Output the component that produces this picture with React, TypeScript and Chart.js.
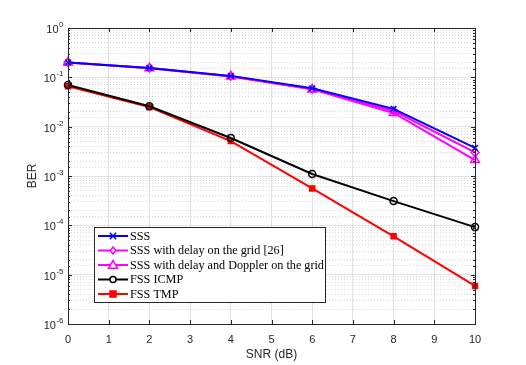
import React, { useEffect, useRef } from "react";
import { Chart, registerables } from "chart.js";

Chart.register(...registerables);

const snr = [0, 2, 4, 6, 8, 10];
const sss = [0.2, 0.155, 0.107, 0.06, 0.023, 0.0037];
const sssDelay = [0.2, 0.155, 0.105, 0.058, 0.021, 0.003];
const sssDelayDoppler = [0.2, 0.153, 0.104, 0.057, 0.019, 0.0021];
const fssIcmp = [0.07, 0.026, 0.0059, 0.0011, 0.00031, 0.000092];
const fssTmp = [0.066, 0.025, 0.0051, 0.00056, 0.00006, 0.0000059];

const seriesNames = [
  "SSS",
  "SSS with delay on the grid [26]",
  "SSS with delay and Doppler on the grid",
  "FSS ICMP",
  "FSS TMP",
];
const xTicks = [0, 1, 2, 3, 4, 5, 6, 7, 8, 9, 10];
const yExponents = [0, -1, -2, -3, -4, -5, -6];

const TEXT = "#262626";
const SANS = "'Liberation Sans', Arial, sans-serif";
const SERIF = "'Liberation Serif', 'Times New Roman', serif";

const isMajor = (v: number) => {
  const l = Math.log10(v);
  return Math.abs(l - Math.round(l)) < 1e-9;
};

function drawMarker(ctx: CanvasRenderingContext2D, style: string, x: number, y: number, r: number, color: string, fill: string) {
  ctx.save();
  ctx.strokeStyle = color;
  ctx.fillStyle = fill;
  ctx.lineWidth = 1.5;
  ctx.beginPath();
  if (style === "crossRot") {
    ctx.moveTo(x - r * 0.8, y - r * 0.8);
    ctx.lineTo(x + r * 0.8, y + r * 0.8);
    ctx.moveTo(x + r * 0.8, y - r * 0.8);
    ctx.lineTo(x - r * 0.8, y + r * 0.8);
    ctx.stroke();
  } else if (style === "rectRot") {
    ctx.moveTo(x, y - r);
    ctx.lineTo(x + r * 0.8, y);
    ctx.lineTo(x, y + r);
    ctx.lineTo(x - r * 0.8, y);
    ctx.closePath();
    ctx.fill();
    ctx.stroke();
  } else if (style === "triangle") {
    ctx.moveTo(x, y - r);
    ctx.lineTo(x + r, y + r * 0.7);
    ctx.lineTo(x - r, y + r * 0.7);
    ctx.closePath();
    ctx.fill();
    ctx.stroke();
  } else if (style === "circle") {
    ctx.arc(x, y, r, 0, Math.PI * 2);
    ctx.fill();
    ctx.stroke();
  } else if (style === "rect") {
    ctx.rect(x - r, y - r, 2 * r, 2 * r);
    ctx.fill();
    ctx.stroke();
  }
  ctx.restore();
}

const decorPlugin = {
  id: "decor",
  afterDatasetsDraw(chart: any) {
    const ctx: CanvasRenderingContext2D = chart.ctx;
    const { left, right, top, bottom } = chart.chartArea;
    const xs = chart.scales.x;
    const ys = chart.scales.y;
    ctx.save();
    // frame
    ctx.strokeStyle = TEXT;
    ctx.lineWidth = 1;
    ctx.strokeRect(Math.round(left) + 0.5, Math.round(top) + 0.5, Math.round(right - left), Math.round(bottom - top));
    // x ticks inward
    ctx.beginPath();
    xTicks.forEach((v) => {
      const px = Math.round(xs.getPixelForValue(v)) + 0.5;
      ctx.moveTo(px, bottom);
      ctx.lineTo(px, bottom - 4);
      ctx.moveTo(px, top);
      ctx.lineTo(px, top + 4);
    });
    // y ticks inward
    ys.ticks.forEach((t: any) => {
      const py = Math.round(ys.getPixelForValue(t.value)) + 0.5;
      const len = isMajor(t.value) ? 4 : 2;
      ctx.moveTo(left, py);
      ctx.lineTo(left + len, py);
      ctx.moveTo(right, py);
      ctx.lineTo(right - len, py);
    });
    ctx.stroke();

    // y tick labels with superscripts
    ctx.fillStyle = TEXT;
    ctx.textBaseline = "alphabetic";
    yExponents.forEach((e) => {
      const py = ys.getPixelForValue(Math.pow(10, e));
      const exp = String(e);
      ctx.font = `11px ${SANS}`;
      const wBase = ctx.measureText("10").width;
      ctx.font = `8px ${SANS}`;
      const wExp = ctx.measureText(exp).width;
      const rightEdge = left - 5;
      const x0 = rightEdge - wExp - wBase;
      ctx.font = `11px ${SANS}`;
      ctx.textAlign = "left";
      ctx.fillText("10", x0, py + 5);
      ctx.font = `8px ${SANS}`;
      ctx.fillText(exp, x0 + wBase + 0.5, py - 1);
    });

    // axis titles
    ctx.font = `12px ${SANS}`;
    ctx.textAlign = "center";
    ctx.textBaseline = "middle";
    ctx.fillText("SNR (dB)", (left + right) / 2, 355);
    ctx.save();
    ctx.translate(33, (top + bottom) / 2);
    ctx.rotate(-Math.PI / 2);
    ctx.fillText("BER", 0, 0);
    ctx.restore();

    // legend
    const bx = 94, by = 227, bw = 231, bh = 75;
    ctx.fillStyle = "#ffffff";
    ctx.fillRect(bx, by, bw, bh);
    ctx.strokeStyle = TEXT;
    ctx.lineWidth = 1;
    ctx.strokeRect(bx + 0.5, by + 0.5, bw, bh);
    chart.data.datasets.forEach((ds: any, i: number) => {
      const ly = 236 + i * 14.5;
      ctx.strokeStyle = ds.borderColor;
      ctx.lineWidth = 2;
      ctx.beginPath();
      ctx.moveTo(98, ly);
      ctx.lineTo(128, ly);
      ctx.stroke();
      drawMarker(ctx, ds.pointStyle, 113, ly, ds.legendRadius, ds.borderColor, ds.pointBackgroundColor === "transparent" ? "#ffffff" : ds.pointBackgroundColor);
      ctx.fillStyle = "#000000";
      ctx.font = `12.2px ${SERIF}`;
      ctx.textAlign = "left";
      ctx.textBaseline = "middle";
      ctx.fillText(ds.label, 130, ly + 0.5);
    });
    ctx.restore();
  },
};

export default function App() {
  const ref = useRef<HTMLCanvasElement | null>(null);
  useEffect(() => {
    document.body.style.margin = "0";
    const mk = (arr: number[]) => snr.map((x, i) => ({ x, y: arr[i] }));
    const base = { borderWidth: 2, clip: false as any, tension: 0, pointBorderWidth: 1.5 };
    const chart = new Chart(ref.current as HTMLCanvasElement, {
      type: "line",
      data: {
        datasets: [
          { ...base, label: seriesNames[0], data: mk(sss), borderColor: "#0000ff", backgroundColor: "#0000ff", pointStyle: "crossRot", pointRadius: 4, pointBackgroundColor: "transparent", pointBorderColor: "#0000ff", legendRadius: 4 } as any,
          { ...base, label: seriesNames[1], data: mk(sssDelay), borderColor: "#ff00ff", backgroundColor: "#ff00ff", pointStyle: "rectRot", pointRadius: 4, pointBackgroundColor: "transparent", pointBorderColor: "#ff00ff", legendRadius: 3.5 } as any,
          { ...base, label: seriesNames[2], data: mk(sssDelayDoppler), borderColor: "#ff00ff", backgroundColor: "#ff00ff", pointStyle: "triangle", pointRadius: 5, pointBackgroundColor: "transparent", pointBorderColor: "#ff00ff", legendRadius: 4.5 } as any,
          { ...base, label: seriesNames[3], data: mk(fssIcmp), borderColor: "#000000", backgroundColor: "#000000", pointStyle: "circle", pointRadius: 3.5, pointBackgroundColor: "transparent", pointBorderColor: "#000000", legendRadius: 3 } as any,
          { ...base, label: seriesNames[4], data: mk(fssTmp), borderColor: "#ff0000", backgroundColor: "#ff0000", pointStyle: "rect", pointRadius: 3.5, pointBackgroundColor: "#ff0000", pointBorderColor: "#ff0000", legendRadius: 3 } as any,
        ],
      },
      options: {
        animation: false,
        responsive: false,
        maintainAspectRatio: false,
        layout: { padding: { left: 0, right: 51, top: 28, bottom: 0 } },
        plugins: { legend: { display: false }, tooltip: { enabled: false }, title: { display: false } },
        scales: {
          x: {
            type: "linear",
            min: 0,
            max: 10,
            afterFit: (s: any) => { s.height = 41; },
            ticks: { stepSize: 1, color: TEXT, font: { family: SANS, size: 11 }, padding: 9, autoSkip: false, maxRotation: 0 },
            grid: { color: "rgba(38,38,38,0.13)", lineWidth: 1, drawTicks: false },
            border: { display: false },
          },
          y: {
            type: "logarithmic",
            min: 1e-6,
            max: 1,
            afterFit: (s: any) => { s.width = 68; },
            ticks: { display: false, autoSkip: false },
            grid: {
              drawTicks: false,
              lineWidth: 1,
              color: (c: any) => (c.tick && !isMajor(c.tick.value) ? "rgba(38,38,38,0.18)" : "rgba(38,38,38,0.13)"),
            },
            border: {
              display: false,
              dash: (c: any) => (c.tick && !isMajor(c.tick.value) ? [1, 2] : []),
            } as any,
          },
        },
      } as any,
      plugins: [decorPlugin],
    });
    return () => chart.destroy();
  }, []);
  return (
    <div style={{ position: "absolute", left: 0, top: 0, width: 526, height: 365, background: "#fff" }}>
      <canvas ref={ref} width={526} height={365} style={{ width: 526, height: 365 }} />
    </div>
  );
}
